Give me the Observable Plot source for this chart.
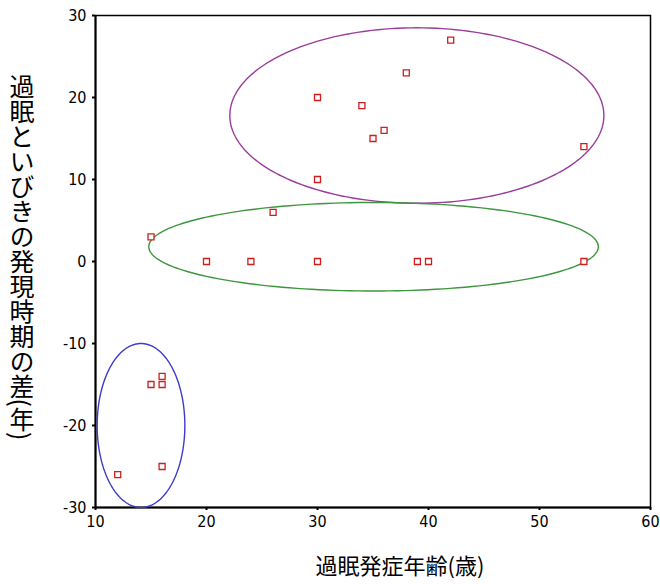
<!DOCTYPE html>
<html>
<head>
<meta charset="utf-8">
<script src="https://cdn.jsdelivr.net/npm/d3@7"></script>
<script src="https://cdn.jsdelivr.net/npm/@observablehq/plot@0.6"></script>
<style>
  body { margin: 0; background: #fff; }
  #chart svg { display: block; }
</style>
</head>
<body>
<div id="chart"></div>
<script>
// Data: onset age of hypersomnia vs. difference in onset time (years)
const onsetAge = [42, 38, 30, 34, 36, 35, 54, 30, 26, 15, 20, 24, 30, 39, 40, 54, 15, 16, 16, 16, 12];
const diffYears = [27, 23, 20, 19, 16, 15, 14, 10, 6, 3, 0, 0, 0, 0, 0, 0, -15, -14, -15, -25, -26];

// Group ellipses (center and radii, in data units)
const ellipseColor = ["#9a3c9a", "#3c963c", "#3c3cc8"];
const ellipseCx = [38.95, 35.05, 14.1];
const ellipseCy = [17.8, 1.8, -20];
const ellipseRx = [16.85, 20.25, 3.95];
const ellipseRy = [10.7, 5.4, 10];

const xTicks = [10, 20, 30, 40, 50, 60];
const yTicks = [-30, -20, -10, 0, 10, 20, 30];
const xLabel = "過眠発症年齢(歳)";
const yLabel = "過眠といびきの発現時期の差(年)";

const points = onsetAge.map((v, i) => ({x: v, y: diffYears[i]}));

const ellipseMarks = ellipseColor.map((c, k) => {
  const pts = d3.range(0, 361, 2).map(a => {
    const t = a * Math.PI / 180;
    return {x: ellipseCx[k] + ellipseRx[k] * Math.cos(t), y: ellipseCy[k] + ellipseRy[k] * Math.sin(t)};
  });
  return Plot.line(pts, {x: "x", y: "y", stroke: c, strokeWidth: 1.4, curve: "linear"});
});

const tickFont = "'Liberation Sans Narrow', 'DejaVu Sans Condensed', 'DejaVu Sans', sans-serif";
const fmt = d => String(d);

const plot = Plot.plot({
  width: 660,
  height: 584,
  marginLeft: 95,
  marginRight: 10,
  marginTop: 15,
  marginBottom: 77,
  style: {background: "#fff", fontFamily: tickFont, fontSize: "16px", color: "#000"},
  x: {domain: [10, 60], ticks: xTicks, label: null, tickSize: 3, tickPadding: 5},
  y: {domain: [-30, 30], ticks: yTicks, label: null, tickSize: 3, tickPadding: 6},
  marks: [
    Plot.frame({stroke: "#000", strokeWidth: 1.5}),
    Plot.axisX({ticks: xTicks, tickSize: 3, tickPadding: 5, fontSize: 16, label: null, strokeWidth: 2, tickFormat: fmt}),
    Plot.axisY({ticks: yTicks, tickSize: 3, tickPadding: 6, fontSize: 16, label: null, strokeWidth: 2, tickFormat: fmt}),
    Plot.ruleX([10], {stroke: "#000", strokeWidth: 2}),
    Plot.ruleY([-30], {stroke: "#000", strokeWidth: 2}),
    ...ellipseMarks,
    Plot.dot(points, {x: "x", y: "y", symbol: "square", r: 3.4, stroke: "#cc1f1f", fill: "#fff", strokeWidth: 1.3})
  ]
});

const svg = d3.select(plot);
// x axis title
svg.append("text")
  .attr("x", 400).attr("y", 574)
  .attr("text-anchor", "middle")
  .attr("font-family", "'Noto Sans CJK JP', sans-serif")
  .attr("font-size", 22)
  .attr("fill", "#000")
  .text(xLabel);
// y axis title, vertical writing
svg.append("text")
  .attr("x", 22).attr("y", 257)
  .attr("text-anchor", "middle")
  .attr("font-family", "'Noto Sans CJK JP', sans-serif")
  .attr("font-size", 25)
  .attr("fill", "#000")
  .style("writing-mode", "vertical-rl")
  .text(yLabel);

document.getElementById("chart").appendChild(plot);
</script>
</body>
</html>
